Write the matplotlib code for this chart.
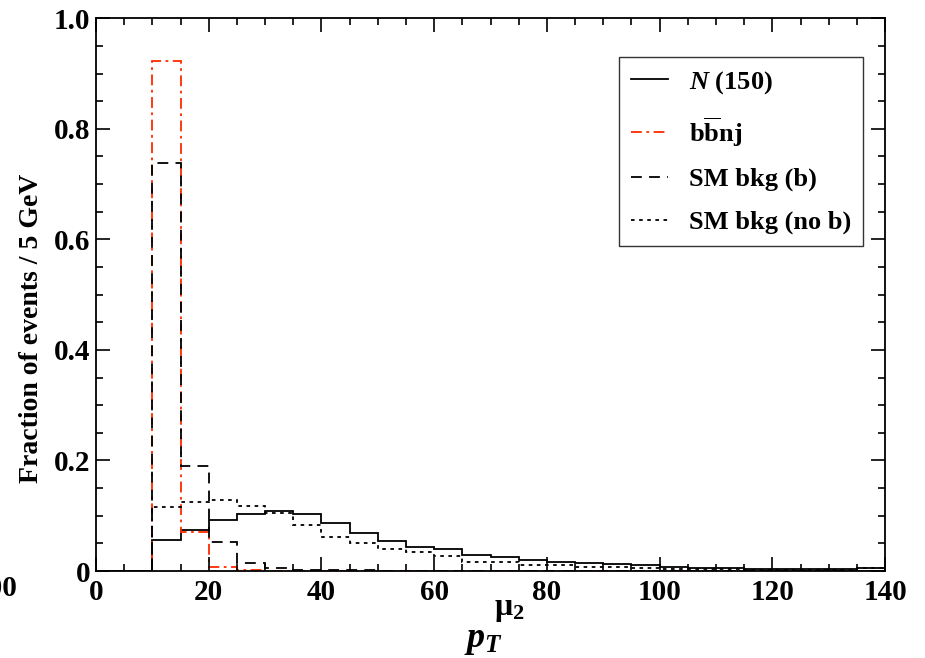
import numpy as np
import matplotlib
matplotlib.use('Agg')
import matplotlib.pyplot as plt
from matplotlib.ticker import MultipleLocator

plt.rcParams['font.family'] = 'Liberation Serif'
plt.rcParams['font.weight'] = 'bold'
plt.rcParams['axes.labelweight'] = 'bold'
plt.rcParams['mathtext.fontset'] = 'custom'
plt.rcParams['mathtext.rm'] = 'Liberation Serif:bold'
plt.rcParams['mathtext.it'] = 'Liberation Serif:italic:bold'
plt.rcParams['mathtext.bf'] = 'Liberation Serif:bold'

# 5 GeV bins from 0 to 140
edges = np.arange(0, 145, 5)

sig_n150 = [0, 0, 0.056, 0.074, 0.092, 0.103, 0.109, 0.104, 0.086, 0.068,
            0.055, 0.044, 0.039, 0.029, 0.025, 0.020, 0.017, 0.015, 0.012,
            0.010, 0.007, 0.006, 0.005, 0.004, 0.003, 0.003, 0.003, 0.005]
bbnj = [0, 0, 0.922, 0.070, 0.008, 0.001, 0, 0, 0, 0,
        0, 0, 0, 0, 0, 0, 0, 0, 0, 0, 0, 0, 0, 0, 0, 0, 0, 0]
sm_b = [0, 0, 0.739, 0.190, 0.053, 0.014, 0.005, 0.002, 0.001, 0.001,
        0, 0, 0, 0, 0, 0, 0, 0, 0, 0, 0, 0, 0, 0, 0, 0, 0, 0]
sm_nob = [0, 0, 0.116, 0.125, 0.129, 0.117, 0.105, 0.083, 0.062, 0.051,
          0.039, 0.035, 0.027, 0.017, 0.016, 0.011, 0.010, 0.008, 0.007,
          0.005, 0.004, 0.003, 0.003, 0.002, 0.002, 0.002, 0.002, 0.005]

yticks = [0, 0.2, 0.4, 0.6, 0.8, 1.0]
ytick_labels = ['0', '0.2', '0.4', '0.6', '0.8', '1.0']

fig = plt.figure(figsize=(9.25, 6.58), dpi=100)
ax = fig.add_axes([0.1038, 0.1322, 0.8530, 0.8400])

ax.stairs(sig_n150, edges, color='black', lw=1.3, label='$N$ (150)')
ax.stairs(bbnj, edges, color='#ff2a00', lw=1.3, linestyle=(0, (6, 2.5, 1.5, 2.5)),
          label=r'b$\overline{\mathrm{b}}$nj')
ax.stairs(sm_b, edges, color='black', lw=1.3, linestyle=(0, (6, 4)),
          label='SM bkg (b)')
ax.stairs(sm_nob, edges, color='black', lw=1.3, linestyle=(0, (2, 2.5)),
          label='SM bkg (no b)')

ax.set_xlim(0, 140)
ax.set_ylim(0, 1.0)
ax.xaxis.set_major_locator(MultipleLocator(20))
ax.xaxis.set_minor_locator(MultipleLocator(5))
ax.set_yticks(yticks, ytick_labels)
ax.yaxis.set_minor_locator(MultipleLocator(0.05))
ax.tick_params(which='both', direction='in', top=True, right=True, width=1.2,
               labelsize=21)
ax.tick_params(which='major', length=10)
ax.tick_params(which='minor', length=5)
ax.tick_params(axis='x', which='major', pad=6)
ax.tick_params(axis='y', which='major', pad=4)
for s in ax.spines.values():
    s.set_linewidth(1.3)

ax.set_ylabel('Fraction of events / 5 GeV', fontsize=20)
ax.yaxis.set_label_coords(-0.066, 0.44)

# x axis title: p_T with a raised muon label
fig.text(464 / 925, 1 - 647 / 658, '$p_T$', fontsize=26, ha='left',
         va='baseline')
fig.text(494 / 925, 1 - 615 / 658, 'μ$_2$', fontsize=23, ha='left',
         va='baseline')

leg = ax.legend(loc='upper left', bbox_to_anchor=(0.663, 0.9295), fontsize=19,
                frameon=True, fancybox=False, edgecolor='black',
                handlelength=1.4, handletextpad=0.8, borderpad=0.45,
                labelspacing=0.72, borderaxespad=0)
leg.get_frame().set_linewidth(1.0)

fig.text(17 / 925, 1 - 589 / 658, '100', fontsize=21, ha='right', va='center')

fig.savefig('out.png', dpi=100)
